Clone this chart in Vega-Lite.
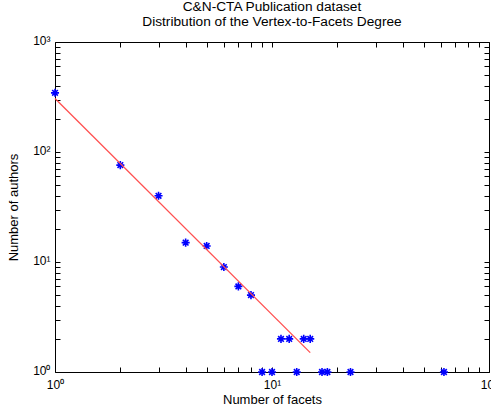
{
  "$schema": "https://vega.github.io/schema/vega-lite/v6.json",
  "autosize": "none",
  "width": 434,
  "height": 330,
  "padding": {"left": 55, "top": 42, "right": 2, "bottom": 40},
  "background": "white",
  "title": {
    "text": ["C&N-CTA Publication dataset", "Distribution of the Vertex-to-Facets Degree"],
    "font": "Liberation Sans",
    "fontSize": 13.7,
    "fontWeight": "normal",
    "color": "black",
    "anchor": "middle",
    "offset": 5,
    "lineHeight": 15
  },
  "config": {
    "view": {"stroke": "black", "strokeWidth": 1},
    "axis": {
      "domain": false,
      "grid": false,
      "ticks": true,
      "tickColor": "black",
      "tickSize": -5,
      "labelFont": "Liberation Sans",
      "labelFontSize": 12,
      "labelColor": "black",
      "titleFont": "Liberation Sans",
      "titleFontSize": 13,
      "titleFontWeight": "normal",
      "titleColor": "black",
      "labelFlush": false,
      "labelOverlap": false
    }
  },
  "layer": [
    {
      "data": {"values": [
        {"x": 1, "y": 345}, {"x": 2, "y": 76}, {"x": 3, "y": 40}, {"x": 4, "y": 15},
        {"x": 5, "y": 14}, {"x": 6, "y": 9}, {"x": 7, "y": 6}, {"x": 8, "y": 5},
        {"x": 9, "y": 1}, {"x": 10, "y": 1}, {"x": 11, "y": 2}, {"x": 12, "y": 2},
        {"x": 13, "y": 1}, {"x": 14, "y": 2}, {"x": 15, "y": 2}, {"x": 17, "y": 1},
        {"x": 18, "y": 1}, {"x": 23, "y": 1}, {"x": 62, "y": 1}
      ]},
      "mark": {
        "type": "point",
        "shape": "M-1,0L1,0M0,-1L0,1M-0.7,-0.7L0.7,0.7M-0.7,0.7L0.7,-0.7",
        "filled": false,
        "stroke": "#0000ff",
        "strokeWidth": 1.6,
        "size": 65,
        "opacity": 1,
        "clip": false
      },
      "encoding": {
        "x": {
          "field": "x", "type": "quantitative",
          "scale": {"type": "log", "domain": [1, 100], "nice": false},
          "axis": {
            "orient": "bottom",
            "title": "Number of facets",
            "titlePadding": 3,
            "labelPadding": 12,
            "values": [1,2,3,4,5,6,7,8,9,10,20,30,40,50,60,70,80,90,100],
            "labelExpr": "datum.value==1?'10⁰':datum.value==10?'10¹':datum.value==100?'10²':''"
          }
        },
        "y": {
          "field": "y", "type": "quantitative",
          "scale": {"type": "log", "domain": [1, 1000], "nice": false},
          "axis": {
            "orient": "left",
            "title": "Number of authors",
            "titlePadding": 12,
            "labelPadding": 10,
            "labelBaseline": "alphabetic",
            "labelOffset": 2,
            "values": [1,2,3,4,5,6,7,8,9,10,20,30,40,50,60,70,80,90,100,200,300,400,500,600,700,800,900,1000],
            "labelExpr": "datum.value==1?'10⁰':datum.value==10?'10¹':datum.value==100?'10²':datum.value==1000?'10³':''"
          }
        }
      }
    },
    {
      "data": {"values": [{"x": 1, "y": 307}, {"x": 15, "y": 1.5}]},
      "mark": {"type": "line", "color": "#ff5050", "strokeWidth": 1.3},
      "encoding": {
        "x": {
          "field": "x", "type": "quantitative",
          "scale": {"type": "log", "domain": [1, 100], "nice": false},
          "axis": {
            "orient": "top", "title": null, "labels": false,
            "values": [1,2,3,4,5,6,7,8,9,10,20,30,40,50,60,70,80,90,100]
          }
        },
        "y": {
          "field": "y", "type": "quantitative",
          "scale": {"type": "log", "domain": [1, 1000], "nice": false},
          "axis": {
            "orient": "right", "title": null, "labels": false,
            "values": [1,2,3,4,5,6,7,8,9,10,20,30,40,50,60,70,80,90,100,200,300,400,500,600,700,800,900,1000]
          }
        }
      }
    }
  ],
  "resolve": {"axis": {"x": "independent", "y": "independent"}}
}
